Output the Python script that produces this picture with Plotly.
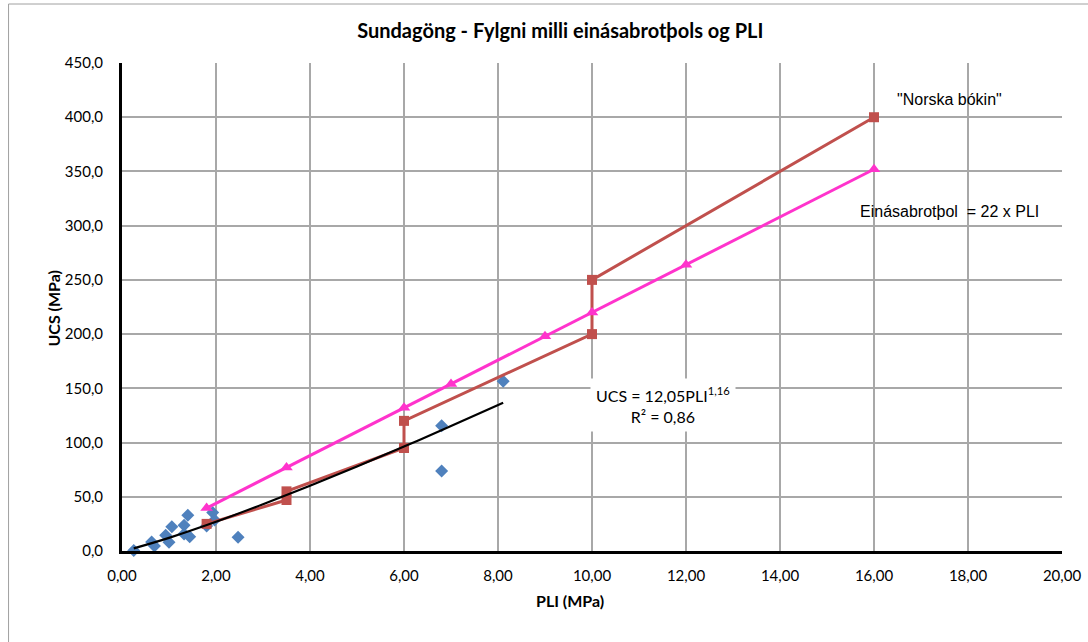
import plotly.graph_objects as go

# Measured data (PLI, UCS)
pli_meas = [0.25, 0.63, 0.69, 0.93, 1.00, 1.06, 1.32, 1.32, 1.40, 1.44, 1.80, 1.93, 1.97, 2.47, 6.80, 6.80, 8.11]
ucs_meas = [0.5, 8.3, 4.6, 14.5, 8.0, 22.4, 23.7, 15.7, 32.9, 13.2, 23.1, 35.4, 28.6, 12.6, 115.6, 73.8, 156.5]

# Power trendline
pli_fit = [0.25, 1.0, 2.0, 3.0, 4.0, 5.0, 6.0, 7.0, 8.11]
ucs_fit = [2.4, 12.1, 26.9, 43.1, 60.2, 77.9, 96.3, 115.2, 136.6]

# "Norska bókin"
pli_norsk = [1.8, 3.5, 3.5, 6.0, 6.0, 10.0, 10.0, 16.0]
ucs_norsk = [25.0, 47.0, 55.0, 95.0, 120.0, 200.0, 250.0, 400.0]

# Einásabrotþol = 22 x PLI
pli_22 = [1.8, 3.5, 6.0, 7.0, 9.0, 10.0, 12.0, 16.0]
ucs_22 = [39.6, 77.0, 132.0, 154.0, 198.0, 220.0, 264.0, 352.0]

x_ticks = [0, 2, 4, 6, 8, 10, 12, 14, 16, 18, 20]
y_ticks = [0, 50, 100, 150, 200, 250, 300, 350, 400, 450]

FONT_C = "Lato, 'Open Sans', sans-serif"
FONT_A = "'Liberation Sans', Arial, sans-serif"

W, H = 1088, 642
L, R, T, B = 121.5, 26, 63, 91
PW, PH = W - L - R, H - T - B


def px_x(px):
    return (px - L) / PW


def px_y(py):
    return (H - B - py) / PH


fig = go.Figure()
fig.add_trace(go.Scatter(x=pli_meas, y=ucs_meas, mode="markers",
                         marker=dict(symbol="diamond", size=10, color="#4F81BD"),
                         cliponaxis=False, showlegend=False))
fig.add_trace(go.Scatter(x=pli_norsk, y=ucs_norsk, mode="lines+markers",
                         line=dict(color="#C0504D", width=3),
                         marker=dict(symbol="square", size=10, color="#C0504D"),
                         showlegend=False))
fig.add_trace(go.Scatter(x=pli_fit, y=ucs_fit, mode="lines",
                         line=dict(color="#000000", width=2.2, shape="spline"),
                         showlegend=False))
fig.add_trace(go.Scatter(x=pli_22, y=ucs_22, mode="lines+markers",
                         line=dict(color="#FF33CC", width=3),
                         marker=dict(symbol="triangle-up", size=11, color="#FF33CC"),
                         showlegend=False))

fig.update_layout(
    width=W, height=H,
    margin=dict(l=L, r=R, t=T, b=B, autoexpand=False),
    paper_bgcolor="white", plot_bgcolor="white",
    separators=", ",
    font=dict(family=FONT_C, size=15, color="#000000"),
    title=dict(text="<b>Sundagöng - Fylgni milli einásabrotþols og PLI</b>",
               x=px_x(560), xanchor="center", xref="paper",
               y=1 - 31 / H, yanchor="middle",
               font=dict(family=FONT_C, size=20, color="#000000")),
    xaxis=dict(range=[0, 20], tickvals=x_ticks, tickformat=".2f",
               showgrid=True, gridcolor="#A8A8A8", gridwidth=2,
               showline=True, linecolor="#000000", linewidth=3,
               zeroline=False, ticks="", ticklen=0, ticklabelstandoff=9,
               tickfont=dict(family=FONT_C, size=15)),
    yaxis=dict(range=[0, 450], tickvals=y_ticks, tickformat=".1f",
               showgrid=True, gridcolor="#A8A8A8", gridwidth=2,
               showline=True, linecolor="#000000", linewidth=3,
               zeroline=False, ticks="", ticklen=0, ticklabelstandoff=13,
               tickfont=dict(family=FONT_C, size=15)),
    shapes=[dict(type="rect", xref="paper", yref="paper",
                 x0=px_x(8), x1=px_x(1100), y0=px_y(660), y1=px_y(4),
                 line=dict(color="#A0A0A0", width=1), fillcolor="rgba(0,0,0,0)", layer="below")],
    annotations=[
        dict(x=px_x(570), y=px_y(612), xref="paper", yref="paper", text="<b>PLI (MPa)</b>",
             showarrow=False, font=dict(family=FONT_C, size=16, color="#000000")),
        dict(x=px_x(40.5), y=px_y(308), xref="paper", yref="paper", text="<b>UCS (MPa)</b>",
             textangle=-90, showarrow=False, font=dict(family=FONT_C, size=16, color="#000000")),
        dict(x=17.6, y=416, xref="x", yref="y", text='"Norska bókin"', showarrow=False,
             font=dict(family=FONT_A, size=16, color="#000000")),
        dict(x=17.6, y=312.7, xref="x", yref="y", text="Einásabrotþol\u00a0 = 22 x PLI", showarrow=False,
             font=dict(family=FONT_A, size=16, color="#000000")),
        dict(x=11.52, y=134.5, xref="x", yref="y",
             text="UCS = 12,05PLI<sup>1,16</sup><br>R² = 0,86", showarrow=False,
             bgcolor="white", borderpad=5, align="center",
             font=dict(family=FONT_C, size=16, color="#000000")),
    ],
)

fig.write_html("out.html", config={"displayModeBar": False},
               post_script="document.body.style.margin='0';document.body.style.overflow='hidden';")
